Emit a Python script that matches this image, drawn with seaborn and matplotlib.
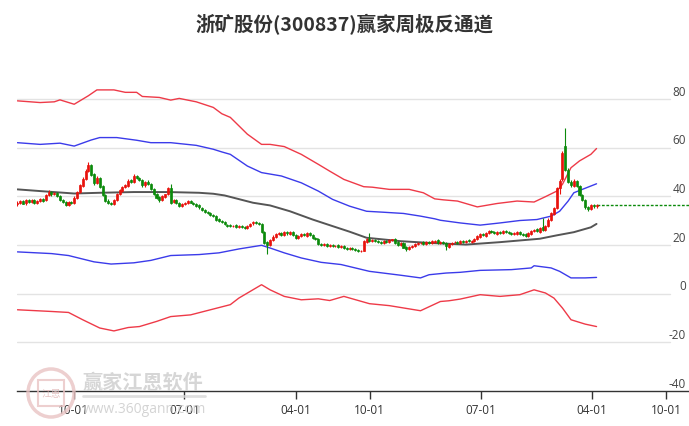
import numpy as np
import pandas as pd
import matplotlib
matplotlib.use("Agg")
import matplotlib.pyplot as plt
import seaborn as sns
from matplotlib.patches import Ellipse, Rectangle

# ---------------- data ----------------
title = "浙矿股份(300837)赢家周极反通道"
start_date = "2020-05-15"   # first weekly candle

opens = [
    36.8, 37.4, 38.3, 37.1, 38.4, 37.9, 38.5, 37.3, 38.1, 38.9,
    38.4, 40.4, 41.9, 40.9, 41.4, 40.1, 38.4, 37.7, 36.6, 37.7,
    37.3, 39.4, 41.9, 44.4, 47.1, 50.4, 52.8, 49.1, 45.6, 47.4,
    44.1, 40.4, 38.3, 37.4, 36.9, 38.4, 41.1, 42.4, 43.9, 44.4,
    46.6, 45.9, 48.4, 47.6, 46.7, 44.6, 46.1, 45.1, 43.1, 40.9,
    39.6, 38.4, 39.9, 40.9, 43.4, 37.6, 38.4, 37.3, 36.1, 36.9,
    37.4, 38.1, 37.4, 36.9, 36.3, 35.4, 34.6, 33.7, 33.1, 32.4,
    31.9, 30.6, 29.9, 29.6, 28.4, 28.1, 27.7, 28.1, 27.4, 27.9,
    27.4, 27.1, 27.7, 28.9, 29.6, 29.1, 28.6, 25.4, 21.1, 20.1,
    21.9, 23.4, 24.6, 24.9, 24.1, 25.3, 24.7, 25.4, 24.1, 22.9,
    23.7, 24.6, 23.9, 24.9, 24.2, 23.1, 22.4, 20.6, 20.1, 20.6,
    19.7, 20.1, 19.5, 19.9, 19.1, 19.6, 18.9, 18.4, 19.0, 18.3,
    17.9, 17.4, 17.7, 21.4, 22.6, 21.7, 22.1, 21.6, 21.3, 20.9,
    21.7, 21.1, 21.9, 22.4, 21.1, 19.9, 20.9, 19.1, 18.4, 19.1,
    19.7, 20.4, 20.7, 21.1, 20.5, 21.3, 20.9, 21.4, 21.9, 20.9,
    21.4, 20.9, 19.4, 20.4, 21.1, 21.3, 20.9, 21.7, 21.3, 21.9,
    21.4, 21.7, 22.4, 23.5, 24.6, 23.9, 24.9, 25.9, 25.3, 24.7,
    25.5, 24.9, 25.7, 25.4, 24.9, 24.5, 24.7, 25.3, 24.7, 24.4,
    23.8, 24.7, 25.7, 26.5, 25.5, 27.5, 26.3, 27.7, 30.4, 32.9,
    35.2, 43.4, 47.0, 60.8, 51.0, 46.1, 44.4, 46.3, 44.4, 40.6,
    38.6, 35.6, 34.9, 36.4, 35.9,
]
closes = [
    37.5, 38.2, 37.0, 38.5, 37.8, 38.6, 37.2, 38.0, 39.0, 38.3,
    40.5, 42.0, 40.8, 41.5, 40.2, 38.5, 37.6, 36.5, 37.8, 37.2,
    39.5, 41.8, 44.5, 47.0, 50.5, 53.0, 49.0, 45.5, 47.5, 44.0,
    40.5, 38.2, 37.5, 36.8, 38.5, 41.0, 42.5, 43.8, 44.5, 46.5,
    46.0, 48.5, 47.5, 46.8, 44.5, 46.0, 45.2, 43.0, 41.0, 39.5,
    38.5, 40.0, 40.8, 43.5, 37.5, 38.5, 37.2, 36.0, 36.8, 37.5,
    38.0, 37.5, 36.8, 36.2, 35.5, 34.5, 33.8, 33.0, 32.5, 31.8,
    30.5, 30.0, 29.5, 28.5, 28.0, 27.8, 28.0, 27.5, 27.8, 27.3,
    27.0, 27.8, 28.8, 29.5, 29.2, 28.5, 25.5, 21.0, 20.0, 22.0,
    23.5, 24.5, 25.0, 24.2, 25.2, 24.8, 25.5, 24.0, 23.0, 23.8,
    24.5, 24.0, 24.8, 24.3, 23.0, 22.5, 20.5, 20.2, 20.5, 19.8,
    20.0, 19.6, 19.8, 19.2, 19.5, 18.8, 18.5, 18.9, 18.2, 17.8,
    17.5, 17.6, 21.5, 22.5, 21.8, 22.0, 21.5, 21.2, 21.0, 21.6,
    21.2, 22.0, 22.3, 21.0, 20.0, 20.8, 19.0, 18.5, 19.2, 19.8,
    20.5, 20.8, 21.0, 20.6, 21.2, 21.0, 21.5, 21.8, 21.0, 21.3,
    20.8, 19.5, 20.5, 21.0, 21.2, 21.0, 21.6, 21.4, 21.8, 21.5,
    21.8, 22.5, 23.6, 24.5, 24.0, 25.0, 25.8, 25.2, 24.8, 25.4,
    25.0, 25.6, 25.3, 24.8, 24.6, 24.8, 25.2, 24.6, 24.3, 23.9,
    24.8, 25.8, 26.4, 25.6, 27.0, 26.4, 27.8, 30.5, 33.0, 35.3,
    43.5, 46.5, 58.0, 51.0, 46.0, 44.5, 46.2, 44.3, 40.5, 38.5,
    35.5, 35.0, 36.3, 36.0, 36.6,
]
highs = [
    38.0, 38.7, 38.6, 39.0, 38.9, 39.1, 38.9, 38.5, 39.5, 39.3,
    41.0, 42.6, 42.3, 41.9, 41.8, 40.6, 38.9, 38.1, 38.2, 38.2,
    40.0, 42.3, 45.0, 47.8, 51.2, 54.2, 53.4, 49.5, 48.2, 47.9,
    44.5, 40.9, 38.8, 37.9, 39.0, 41.5, 43.0, 44.3, 45.0, 47.0,
    47.2, 49.2, 48.9, 48.1, 47.2, 46.5, 46.6, 45.6, 43.5, 41.4,
    40.1, 40.5, 41.2, 44.0, 45.0, 39.0, 38.9, 37.8, 37.3, 37.9,
    38.4, 38.5, 37.8, 37.3, 36.7, 35.8, 35.0, 34.1, 33.5, 32.8,
    32.3, 31.0, 30.3, 30.0, 28.8, 28.5, 28.4, 28.5, 28.2, 28.3,
    27.8, 28.2, 29.2, 29.9, 30.0, 29.5, 29.0, 25.8, 21.8, 22.5,
    24.0, 25.0, 25.4, 25.3, 25.6, 25.7, 25.9, 25.8, 24.5, 24.2,
    24.9, 24.9, 25.2, 25.2, 24.5, 23.5, 22.8, 21.0, 20.9, 21.0,
    20.4, 20.5, 20.2, 20.3, 19.9, 19.9, 19.2, 19.3, 19.4, 18.7,
    18.3, 18.0, 22.0, 23.0, 25.0, 22.4, 22.5, 22.0, 21.7, 22.0,
    22.1, 22.4, 22.7, 22.8, 21.5, 21.2, 21.3, 19.5, 19.6, 20.2,
    20.9, 21.2, 21.4, 21.5, 21.6, 21.7, 21.9, 22.2, 22.3, 21.7,
    21.8, 21.3, 20.9, 21.4, 21.6, 21.7, 22.0, 22.1, 22.2, 22.3,
    22.2, 22.9, 24.0, 24.9, 25.0, 25.4, 26.2, 26.3, 25.7, 25.8,
    25.9, 26.0, 26.1, 25.8, 25.3, 25.2, 25.6, 25.7, 25.1, 24.8,
    25.2, 26.2, 26.8, 26.9, 27.4, 31.0, 28.2, 31.0, 33.5, 35.8,
    44.0, 47.0, 58.8, 68.3, 51.5, 46.8, 47.0, 46.8, 44.8, 41.0,
    39.0, 36.2, 36.8, 36.9, 37.0,
]
lows = [
    36.2, 37.0, 36.7, 36.6, 37.4, 37.5, 36.8, 36.9, 37.7, 37.8,
    38.0, 40.0, 40.3, 40.4, 39.8, 38.0, 37.1, 35.9, 36.1, 36.7,
    36.9, 39.0, 41.4, 44.0, 46.6, 50.0, 48.3, 44.8, 45.0, 43.4,
    40.0, 37.6, 37.0, 36.3, 36.4, 38.0, 40.6, 42.0, 43.4, 44.0,
    45.5, 45.5, 47.0, 46.3, 44.0, 44.0, 44.6, 42.5, 40.5, 39.0,
    37.9, 38.0, 39.5, 40.4, 37.0, 37.2, 36.8, 35.6, 35.7, 36.5,
    37.0, 37.1, 36.4, 35.8, 35.0, 34.1, 33.3, 32.6, 32.0, 31.4,
    30.1, 29.6, 29.1, 28.1, 27.6, 27.4, 27.3, 27.1, 27.0, 26.9,
    26.6, 26.7, 27.3, 28.4, 28.8, 28.1, 25.0, 20.3, 16.2, 19.6,
    21.5, 23.0, 24.2, 23.7, 23.7, 24.3, 24.3, 23.6, 22.6, 22.5,
    23.3, 23.6, 23.5, 23.9, 22.6, 22.0, 20.1, 19.8, 19.7, 19.4,
    19.3, 19.2, 19.1, 18.8, 18.7, 18.4, 18.1, 18.0, 17.8, 17.4,
    17.1, 17.0, 17.4, 21.0, 21.4, 21.2, 21.1, 20.8, 20.6, 20.5,
    20.8, 20.7, 21.5, 20.6, 19.6, 19.5, 18.6, 17.5, 18.0, 18.7,
    19.3, 20.0, 20.3, 20.2, 20.1, 20.6, 20.5, 21.0, 20.6, 20.5,
    20.4, 18.0, 19.0, 20.0, 20.7, 20.6, 20.5, 21.0, 20.9, 21.1,
    21.0, 21.3, 22.0, 23.1, 23.6, 23.5, 24.5, 24.8, 24.4, 24.3,
    24.6, 24.5, 24.9, 24.4, 24.2, 24.0, 24.3, 24.2, 23.9, 23.5,
    23.3, 24.3, 25.3, 25.2, 25.1, 25.9, 25.9, 27.3, 30.0, 32.5,
    34.8, 41.0, 46.5, 50.5, 45.5, 43.8, 44.0, 43.8, 40.0, 38.0,
    34.8, 34.0, 34.5, 35.4, 35.4,
]

# channel lines: week index -> value
upper_red_wk = [0, 8, 13, 15, 20, 25, 28, 34, 38, 42, 44, 50, 54, 57, 63, 69, 72, 75, 81, 86,
                89, 94, 100, 106, 110, 115, 122, 125, 131, 138, 143, 147, 150, 155, 162, 169,
                176, 182, 186, 190, 192, 195, 198, 202, 204]
upper_red = [79.3, 78.6, 78.9, 79.7, 77.9, 81.4, 83.8, 83.8, 82.8, 82.8, 81.1, 80.7, 79.6, 80.3,
             78.9, 76.6, 74.0, 72.5, 65.6, 61.4, 61.4, 60.5, 57.3, 53.2, 50.4, 47.0, 44.0, 43.8,
             42.9, 42.9, 41.5, 39.0, 38.6, 38.1, 35.7, 37.1, 38.1, 37.7, 39.9, 42.2, 45.0, 51.8,
             54.6, 57.3, 59.7]
upper_blue_wk = [0, 8, 15, 20, 26, 29, 35, 42, 47, 54, 63, 69, 72, 75, 81, 86, 93, 100, 106, 111,
                 117, 123, 129, 136, 142, 147, 149, 156, 163, 170, 177, 183, 188, 191, 194, 196,
                 199, 204]
upper_blue = [62.1, 61.4, 61.9, 60.7, 63.2, 64.2, 64.2, 63.1, 62.1, 62.1, 61.0, 59.4, 58.3, 57.3,
              52.5, 49.8, 48.4, 45.6, 42.2, 38.8, 36.0, 33.9, 33.5, 33.0, 31.9, 30.8, 30.2, 29.1,
              28.2, 29.1, 30.1, 30.5, 31.9, 33.9, 38.1, 41.5, 42.9, 45.2]
middle_wk = [0, 8, 20, 29, 41, 53, 64, 69, 73, 76, 83, 89, 96, 104, 111, 117, 123, 135, 145, 158,
             170, 184, 190, 196, 202, 204]
middle = [42.9, 42.2, 41.2, 41.5, 41.8, 41.8, 41.5, 41.1, 40.4, 39.5, 37.4, 36.3, 33.9, 30.5, 27.8,
          25.5, 23.0, 21.6, 20.9, 20.2, 21.2, 22.6, 24.0, 25.3, 27.3, 28.7]
lower_blue_wk = [0, 12, 18, 27, 33, 41, 47, 54, 64, 71, 78, 86, 89, 94, 100, 107, 114, 124, 135,
                 142, 145, 151, 156, 163, 174, 181, 182, 188, 191, 195, 200, 204]
lower_blue = [17.2, 16.5, 15.7, 13.1, 12.2, 12.7, 13.7, 15.7, 16.1, 16.8, 18.4, 19.9, 18.8, 16.8,
              14.7, 12.9, 12.0, 9.2, 7.6, 6.5, 7.8, 8.5, 8.8, 9.6, 9.9, 10.6, 11.5, 10.6, 9.2,
              6.5, 6.5, 6.7]
lower_red_wk = [0, 12, 18, 23, 29, 34, 39, 43, 49, 54, 61, 68, 75, 78, 86, 89, 94, 100, 106, 110,
                115, 124, 131, 142, 149, 152, 156, 163, 170, 177, 182, 186, 189, 192, 195, 200, 204]
lower_red = [-6.6, -7.3, -7.7, -10.7, -14.1, -15.3, -13.9, -13.5, -11.4, -9.4, -8.7, -6.6, -4.5,
             -1.8, 3.7, 1.6, -1.1, -2.5, -2.1, -2.8, -1.1, -4.1, -4.9, -7.0, -3.2, -2.9, -2.2,
             -0.4, -1.1, -0.4, 1.6, 0.3, -1.8, -5.9, -10.7, -12.5, -13.5]

x_tick_dates = ["2020-10-01", "2021-07-01", "2022-04-01", "2022-10-01",
                "2023-07-01", "2024-04-01", "2024-10-01"]
x_tick_labels = ["10-01", "07-01", "04-01", "10-01", "07-01", "04-01", "10-01"]
y_ticks = [80, 60, 40, 20, 0, -20, -40]

# ---------------- styling ----------------
RED = "#e8120c"
GREEN = "#0b8a0b"
BAND_RED = "#ee3a48"
BAND_BLUE = "#3b3bea"
MID_GRAY = "#555555"

sns.set_theme(style="white")
plt.rcParams["font.family"] = ["Noto Sans CJK SC", "DejaVu Sans"]

W, H = 689, 427
fig = plt.figure(figsize=(W / 100, H / 100), dpi=100)
ax_left, ax_right, ax_top, ax_bot = 17, 689, 51.5, 392
ax = fig.add_axes([ax_left / W, 1 - ax_bot / H, (ax_right - ax_left) / W, (ax_bot - ax_top) / H])

start = pd.Timestamp(start_date)
dates = pd.date_range(start, periods=len(closes), freq="7D")
x_left = start - pd.Timedelta(days=1)
x_right = pd.Timestamp("2024-11-26")

def wk_dates(wks):
    return [start + pd.Timedelta(days=7 * w) for w in wks]

# grid lines (stop before the right-side labels)
grid_frac = (670 - ax_left) / (ax_right - ax_left)
for yv in y_ticks[:-1]:
    ax.axhline(yv, xmin=0, xmax=grid_frac, color="#e3e3e3", lw=1.0, zorder=0)

# channel lines
bands = [
    (upper_red_wk, upper_red, BAND_RED, 1.0),
    (upper_blue_wk, upper_blue, BAND_BLUE, 1.0),
    (middle_wk, middle, MID_GRAY, 1.4),
    (lower_blue_wk, lower_blue, BAND_BLUE, 1.0),
    (lower_red_wk, lower_red, BAND_RED, 1.0),
]
for wks, vals, col, lw in bands:
    df = pd.DataFrame({"date": wk_dates(wks), "v": vals})
    sns.lineplot(data=df, x="date", y="v", ax=ax, color=col, linewidth=lw,
                 estimator=None, sort=False, zorder=2)

# candles
o = np.array(opens); c = np.array(closes); hi = np.array(highs); lo = np.array(lows)
up = c >= o
colors = np.where(up, RED, GREEN)
ax.vlines(dates, lo, hi, colors=colors, lw=0.8, zorder=3)
ax.bar(dates, np.abs(c - o), bottom=np.minimum(o, c), width=5.0, color=colors,
       edgecolor=colors, linewidth=0.5, zorder=4)

# last price dashed line
ax.hlines(closes[-1], dates[-1], x_right, colors=GREEN, linestyles=(0, (2.0, 1.2)),
          lw=1.0, zorder=3)

ax.set_xlim(x_left, x_right)
ax.set_ylim(-40, 100)
ax.set_xlabel("")
ax.set_ylabel("")

for s in ["top", "left", "right"]:
    ax.spines[s].set_visible(False)
ax.spines["bottom"].set_color("#333333")
ax.spines["bottom"].set_linewidth(1.0)

ax.set_xticks(pd.to_datetime(x_tick_dates))
ax.set_xticklabels(x_tick_labels)
ax.tick_params(axis="x", direction="out", length=6, width=1, color="#333333",
               labelsize=8.5, labelcolor="#333333", pad=3, bottom=True)
ax.set_yticks([])
for lbl in ax.get_xticklabels():
    lbl.set_fontfamily(["Open Sans", "DejaVu Sans"])

for yv in y_ticks:
    ax.text((686 - ax_left) / (ax_right - ax_left), yv + 0.6, str(yv),
            transform=ax.get_yaxis_transform(), ha="right", va="bottom",
            fontsize=8.5, color="#444444", family=["Open Sans", "DejaVu Sans"])

# title
fig.text(0.5, 1 - 25 / H, title, ha="center", va="center", fontsize=14,
         fontweight="bold", color="#333333")

# watermark
cx, cy = 51, 394
fig.add_artist(Ellipse((cx / W, 1 - cy / H), 46 / W, 48 / H, fill=False,
                       edgecolor="#e9c3c3", lw=2.5, alpha=0.8, zorder=0.5))
fig.add_artist(Rectangle(((cx - 13) / W, 1 - (cy + 13) / H), 26 / W, 26 / H, fill=False,
                         edgecolor="#e9c3c3", lw=1.5, alpha=0.8))
fig.text(cx / W, 1 - cy / H, "江恩", ha="center", va="center", fontsize=7,
         color="#e2b5b5", alpha=0.8)
fig.text(83 / W, 1 - 382 / H, "赢家江恩软件", ha="left", va="center", fontsize=14.5,
         color="#cfcfcf", fontweight="bold", alpha=0.85)
fig.add_artist(plt.Line2D([83 / W, 205 / W], [1 - 397 / H, 1 - 397 / H],
                          color="#d8d8d8", lw=2, alpha=0.8))
fig.text(83 / W, 1 - 410 / H, "www.360gann.com", ha="left", va="center", fontsize=10,
         color="#cfcfcf", family=["Open Sans", "DejaVu Sans"], alpha=0.9)

fig.savefig("out.png", dpi=100)
